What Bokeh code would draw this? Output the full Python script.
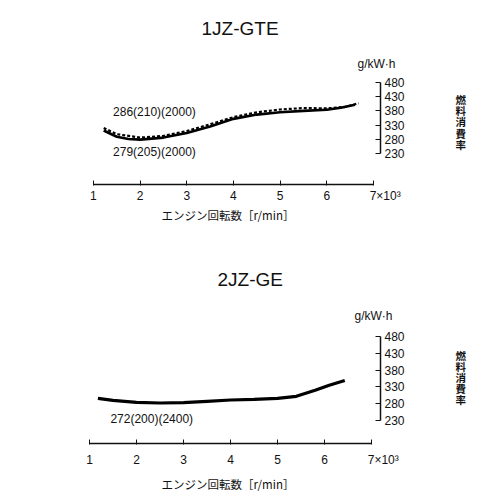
from bokeh.plotting import figure
from bokeh.models import Range1d, LinearAxis, FixedTicker, Label, Title
from bokeh.layouts import column
from bokeh.embed import file_html
from bokeh.resources import INLINE

# ---- data ----
rpm_ticks = [1, 2, 3, 4, 5, 6, 7]
bsfc_ticks = [230, 280, 330, 380, 430, 480]

jz1_solid_rpm = [1.22, 1.5, 1.75, 2.0, 2.5, 3.0, 3.5, 4.0, 4.5, 5.0, 5.5, 6.0, 6.3, 6.6]
jz1_solid_bsfc = [311, 289, 281, 279, 286, 302, 325, 352, 367, 375, 380, 384, 391, 402]
jz1_dash_rpm = [1.22, 1.5, 2.0, 2.5, 3.0, 3.5, 4.0, 4.5, 5.0, 5.5, 6.0, 6.4, 6.68]
jz1_dash_bsfc = [320, 298, 286, 292, 309, 333, 358, 375, 385, 390, 389, 394, 407]

jz2_rpm = [1.18, 1.5, 2.0, 2.5, 3.0, 3.5, 4.0, 4.5, 5.0, 5.4, 5.8, 6.1, 6.43]
jz2_bsfc = [296, 290, 284, 282, 283, 287, 291, 293, 296, 302, 320, 335, 349]

TXT = "#111111"
LAT = "Liberation Sans"
CJK = "Noto Sans CJK JP"
X_LABEL = "エンジン回転数［r/min］"
Y_LABEL = "燃\n料\n消\n費\n率\n"
UNIT = "g/kW·h"
PAD = "\u2007\u2007\u2007\u2008"


def make_fig(left, right, top, bottom, xr, yr, unit_offset, title, title_offset, title_standoff):
    p = figure(width=500, height=250, output_backend="svg", toolbar_location=None,
               x_axis_location=None, y_axis_location=None,
               min_border_left=left, min_border_right=right,
               min_border_top=top, min_border_bottom=bottom,
               x_range=Range1d(*xr), y_range=Range1d(*yr))
    p.xgrid.visible = False
    p.ygrid.visible = False
    p.outline_line_color = None
    p.background_fill_color = "white"
    p.border_fill_color = "white"
    # main title (outermost)
    p.title.text = title
    p.title.align = "left"
    p.title.offset = title_offset
    p.title.standoff = title_standoff
    p.title.text_font = LAT
    p.title.text_font_size = "19px"
    p.title.text_font_style = "normal"
    p.title.text_color = TXT
    # unit text just above the fuel axis (closest to the frame)
    p.add_layout(Title(text=UNIT, align="right", offset=unit_offset, standoff=0,
                       text_font=LAT, text_font_size="12px", text_font_style="normal",
                       text_color=TXT), "above")
    return p


def add_axes(p, x_label_standoff, x_axis_label_standoff, y_label_standoff):
    xa = LinearAxis(ticker=FixedTicker(ticks=rpm_ticks), bounds=(1, 7),
                    major_label_overrides={7: PAD + "7×10³"},
                    axis_label=X_LABEL,
                    axis_label_text_font=CJK, axis_label_text_font_size="11.5px",
                    axis_label_text_font_style="normal", axis_label_text_color=TXT,
                    axis_label_standoff=x_axis_label_standoff,
                    major_label_text_font=LAT, major_label_text_font_size="12px",
                    major_label_text_color=TXT, major_label_standoff=x_label_standoff,
                    major_tick_in=4, major_tick_out=1, minor_tick_line_color=None,
                    axis_line_width=1.3, axis_line_color="#111111",
                    major_tick_line_color="#111111")
    p.add_layout(xa, "below")
    ya = LinearAxis(ticker=FixedTicker(ticks=bsfc_ticks), bounds=(230, 480),
                    axis_label=Y_LABEL, axis_label_orientation="horizontal",
                    axis_label_text_font=CJK, axis_label_text_font_size="10.5px",
                    axis_label_text_font_style="bold", axis_label_text_color=TXT,
                    axis_label_text_line_height=0.74,
                    axis_label_standoff=y_label_standoff,
                    major_label_text_font=LAT, major_label_text_font_size="12px",
                    major_label_text_color=TXT, major_label_standoff=4,
                    major_tick_in=5, major_tick_out=0, minor_tick_line_color=None,
                    axis_line_width=1.5, axis_line_color="#111111",
                    major_tick_line_color="#111111")
    p.add_layout(ya, "right")


def lab(p, x, y, text):
    p.add_layout(Label(x=x, y=y, text=text, text_font=LAT, text_font_size="12px",
                       text_align="left", text_baseline="middle", text_color=TXT))


# ---- 1JZ-GTE ----
p1 = make_fig(74, 120, 70, 66, (0.616, 7.150), (120.8, 522.3), -15, "1JZ-GTE", 126, 31)
add_axes(p1, 3, 1, 48)
p1.line(jz1_solid_rpm, jz1_solid_bsfc, line_color="black", line_width=2.6)
p1.line(jz1_dash_rpm, jz1_dash_bsfc, line_color="black", line_width=2.2, line_dash="3 2")
lab(p1, 1.421, 375.4, "286(210)(2000)")
lab(p1, 1.421, 237, "279(205)(2000)")

# ---- 2JZ-GE ----
p2 = make_fig(75, 119, 72, 57, (0.703, 7.190), (161.5, 521.7), -12, "2JZ-GE", 142, 33)
add_axes(p2, 8, 6, 48)
p2.line(jz2_rpm, jz2_bsfc, line_color="black", line_width=3.2)
lab(p2, 1.445, 235, "272(200)(2400)")

layout = column(p1, p2)
open("out.html", "w").write(file_html(layout, INLINE))
